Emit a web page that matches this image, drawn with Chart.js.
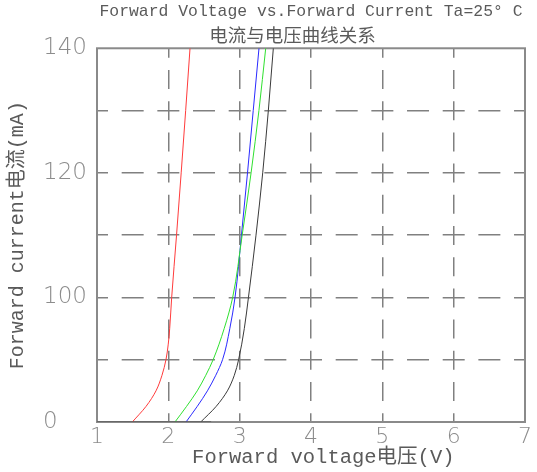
<!DOCTYPE html>
<html>
<head>
<meta charset="utf-8">
<script src="https://cdn.jsdelivr.net/npm/chart.js@4/dist/chart.umd.min.js"></script>
<style>
  html, body { margin: 0; padding: 0; background: #fff; }
  #wrap { width: 537px; height: 472px; }
</style>
</head>
<body>
<div id="wrap"><canvas id="chart"></canvas></div>
<script>
// current level in grid steps (0..6)
const redI  = [0, 0.25, 0.5, 0.75, 1, 1.25, 1.5, 2, 3, 4, 5, 6];
const restI = [0, 0.25, 0.5, 0.75, 1, 1.5, 2, 3, 4, 5, 6];

// forward voltage (V) at each level, per LED colour
const redV   = [1.495, 1.687, 1.827, 1.911, 1.967, 1.999, 2.019, 2.047, 2.115, 2.180, 2.243, 2.304];
const greenV = [2.093, 2.255, 2.405, 2.525, 2.628, 2.783, 2.902, 3.035, 3.160, 3.270, 3.365];
const blueV  = [2.248, 2.405, 2.548, 2.665, 2.760, 2.862, 2.935, 3.025, 3.110, 3.190, 3.271];
const blackV = [2.454, 2.670, 2.828, 2.925, 2.985, 3.065, 3.123, 3.229, 3.323, 3.402, 3.472];

// zero-current stretch along the bottom axis
const offV = [1, 2.6];
const offI = [0, 0];

const yTickLabels = ["0", "", "100", "", "120", "", "140"];
const xTickLabels = ["1", "2", "3", "4", "5", "6", "7"];

const toPoints = (xs, ys) => xs.map((x, i) => ({ x: x, y: ys[i] }));

const series = [
  { label: "red",   v: redV,   i: redI,  color: "#ff3b3b" },
  { label: "green", v: greenV, i: restI, color: "#2fe02f" },
  { label: "blue",  v: blueV,  i: restI, color: "#2a2aff" },
  { label: "black", v: blackV, i: restI, color: "#3a3a3a" },
];

const monoFont = "'Liberation Mono', 'Noto Sans CJK SC', monospace";
const tickFont = "'DejaVu Sans', sans-serif";

// solid frame around the plot area (edge grid lines are hidden)
const frame = {
  id: "frame",
  beforeDatasetsDraw(chart) {
    const { ctx, chartArea: a } = chart;
    ctx.save();
    ctx.strokeStyle = "#8a8a8a";
    ctx.lineWidth = 2;
    ctx.strokeRect(a.left, a.top, a.right - a.left, a.bottom - a.top);
    ctx.restore();
  },
};

const edgeHidden = (last) => (c) =>
  c.index === 0 || c.index === last ? "rgba(0,0,0,0)" : "#808080";

const curveSets = series.map((s) => ({
  label: s.label,
  data: toPoints(s.v, s.i),
  borderColor: s.color,
  borderWidth: 1,
  pointRadius: 0,
  fill: false,
  cubicInterpolationMode: "monotone",
}));

new Chart(document.getElementById("chart"), {
  type: "line",
  data: {
    datasets: [
      {
        label: "off",
        data: toPoints(offV, offI),
        borderColor: "#5c5c5c",
        borderWidth: 1.5,
        pointRadius: 0,
        fill: false,
      },
      ...curveSets,
    ],
  },
  options: {
    indexAxis: "y", // curves are smoothed as voltage over current
    responsive: true,
    maintainAspectRatio: false,
    animation: false,
    layout: { padding: { top: 0, right: 12, bottom: 0, left: 43 } },
    plugins: {
      legend: { display: false },
      tooltip: { enabled: false },
      title: {
        display: true,
        fullSize: false,
        text: "Forward Voltage vs.Forward Current Ta=25° C",
        color: "#5a5a5a",
        font: { family: monoFont, size: 16.4, weight: "normal", lineHeight: 1.2 },
        padding: { top: 2, bottom: 0 },
      },
      subtitle: {
        display: true,
        fullSize: false,
        text: "电流与电压曲线关系\u3000\u3000",
        color: "#5a5a5a",
        font: { family: monoFont, size: 18.5, weight: "normal", lineHeight: 1.2 },
        padding: { top: 4.4, bottom: 0 },
      },
    },
    scales: {
      x: {
        type: "linear",
        position: "bottom",
        min: 1,
        max: 7,
        afterFit: (scale) => { scale.height = 50; },
        ticks: {
          stepSize: 1,
          autoSkip: false,
          padding: 4.5,
          color: "#8c8c8c",
          font: { family: tickFont, size: 22, weight: 200, lineHeight: 1 },
          callback: (v) => xTickLabels[v - 1],
        },
        grid: {
          color: edgeHidden(6),
          lineWidth: 1.5,
          drawTicks: false,
        },
        border: { display: false, dash: [19, 12.2], dashOffset: 9.5 },
        title: {
          display: true,
          text: "  Forward voltage电压(V)",
          color: "#5a5a5a",
          font: { family: monoFont, size: 20.5, weight: "normal", lineHeight: 1.2 },
          padding: { top: 0, bottom: 2.5 },
        },
      },
      y: {
        type: "linear",
        position: "left",
        min: 0,
        max: 6,
        afterFit: (scale) => { scale.width = 54; },
        ticks: {
          stepSize: 1,
          autoSkip: false,
          crossAlign: "far", // labels flush left
          color: "#8c8c8c",
          font: { family: tickFont, size: 23, weight: 200, lineHeight: 1 },
          callback: (v) => yTickLabels[v],
        },
        grid: {
          color: edgeHidden(6),
          lineWidth: 1.5,
          drawTicks: false,
        },
        border: { display: false, dash: [22, 13.67], dashOffset: 11 },
        title: {
          display: true,
          text: "Forward current电流(mA)",
          color: "#5a5a5a",
          font: { family: monoFont, size: 20, weight: "normal", lineHeight: 1.2 },
          padding: { top: -37, bottom: 0 },
        },
      },
    },
  },
  plugins: [frame],
});
</script>
</body>
</html>
